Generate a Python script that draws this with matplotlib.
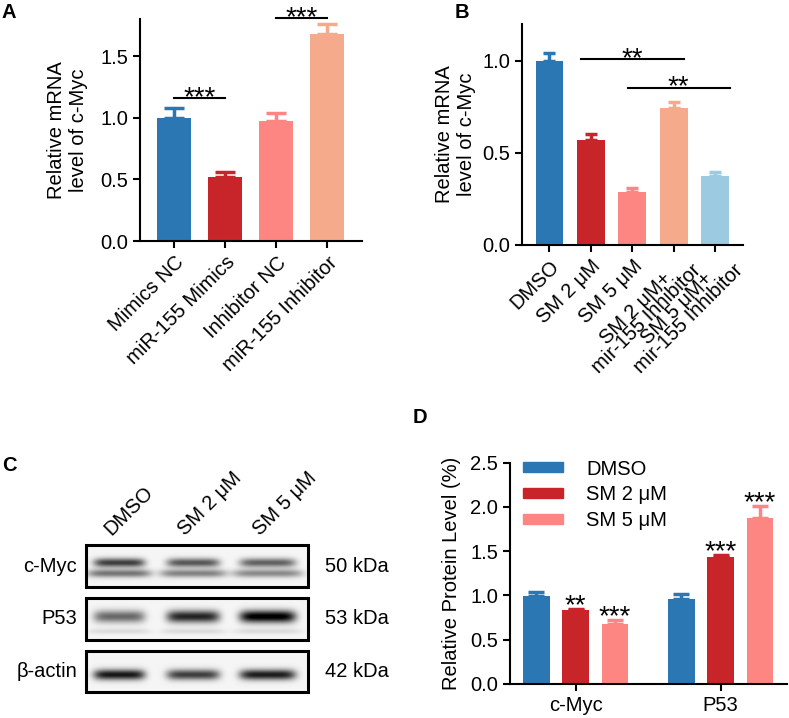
import numpy as np
import matplotlib
matplotlib.use('Agg')
import matplotlib.pyplot as plt
from matplotlib.patches import Rectangle, Patch
from matplotlib.transforms import ScaledTranslation

plt.rcParams['font.family'] = ['Liberation Sans', 'DejaVu Sans']
plt.rcParams['font.size'] = 14.5
FS = 14.5

BLUE = '#2b77b4'
RED = '#c8252a'
PINK = '#fd8682'
PEACH = '#f5aa8b'
LBLUE = '#9ccae0'

# ---- panel A data
a_labels = ['Mimics NC', 'miR-155 Mimics', 'Inhibitor NC', 'miR-155 Inhibitor']
a_means = [1.00, 0.52, 0.975, 1.675]
a_errs = [0.08, 0.04, 0.065, 0.085]
a_colors = [BLUE, RED, PINK, PEACH]
a_sig = [(0, 1, 1.16, '***'), (2, 3, 1.81, '***')]

# ---- panel B data
b_labels = ['DMSO', 'SM 2 μM', 'SM 5 μM', 'SM 2 μM+\nmir-155 Inhibitor',
            'SM 5 μM+\nmir-155 Inhibitor']
b_means = [1.00, 0.57, 0.285, 0.745, 0.375]
b_errs = [0.045, 0.03, 0.022, 0.032, 0.022]
b_colors = [BLUE, RED, PINK, PEACH, LBLUE]
b_sig = [(0.77, 3.25, 1.01, '**'), (1.89, 4.35, 0.855, '**')]

# ---- panel C data (band intensity per lane)
c_lanes = ['DMSO', 'SM 2 μM', 'SM 5 μM']
c_proteins = ['c-Myc', 'P53', 'β-actin']
c_kda = ['50 kDa', '53 kDa', '42 kDa']
c_myc_upper = [0.72, 0.62, 0.58]
c_myc_lower = [0.50, 0.45, 0.42]
c_p53 = [0.55, 0.82, 1.00]
c_p53_faint = [0.10, 0.10, 0.10]
c_actin = [0.88, 0.72, 0.86]

# ---- panel D data
d_groups = ['c-Myc', 'P53']
d_series = ['DMSO', 'SM 2 μM', 'SM 5 μM']
d_dmso = [0.99, 0.96]
d_sm2 = [0.83, 1.43]
d_sm5 = [0.675, 1.88]
d_dmso_err = [0.045, 0.055]
d_sm2_err = [0.022, 0.032]
d_sm5_err = [0.048, 0.13]
d_sm2_stars = ['**', '***']
d_sm5_stars = ['***', '***']


def style_axes(ax):
    for s in ['top', 'right']:
        ax.spines[s].set_visible(False)
    for s in ['left', 'bottom']:
        ax.spines[s].set_linewidth(1.5)
    ax.tick_params(width=1.5, length=5, labelsize=FS)


def bars_with_err(ax, xs, means, errs, colors, width, capsize):
    ax.bar(xs, means, width=width, color=colors, zorder=2)
    for x, m, e, c in zip(xs, means, errs, colors):
        ax.errorbar(x, m, yerr=[[0], [e]], fmt='none', ecolor=c,
                    elinewidth=2.5, capsize=capsize, capthick=2.5, zorder=1)


def stars(ax, x, y, s):
    ax.annotate(s, xy=(x, y), xytext=(0, -5), textcoords='offset points',
                ha='center', va='baseline', fontsize=20, annotation_clip=False)


fig = plt.figure(figsize=(7.89, 7.18), dpi=100)

# ---------------- A
axA = fig.add_axes([0.1774, 0.6643, 0.2814, 0.3092])
xa = np.arange(len(a_means))
bars_with_err(axA, xa, a_means, a_errs, a_colors, 0.67, 7)
for i, j, y, s in a_sig:
    axA.plot([i, j], [y, y], color='black', lw=1.5, clip_on=False)
    stars(axA, (i + j) / 2, y, s)
axA.set_xlim(-0.67, 3.68)
axA.set_ylim(0, 1.8)
axA.set_yticks([0.0, 0.5, 1.0, 1.5])
axA.set_xticks(xa)
axA.set_xticklabels(a_labels, rotation=45, ha='right', rotation_mode='anchor')
axA.set_ylabel('Relative mRNA\nlevel of c-Myc', fontsize=FS, labelpad=9)
style_axes(axA)

# ---------------- B
axB = fig.add_axes([0.6612, 0.6588, 0.2805, 0.3078])
xb = np.arange(len(b_means))
bars_with_err(axB, xb, b_means, b_errs, b_colors, 0.67, 4.5)
for x0, x1, y, s in b_sig:
    axB.plot([x0, x1], [y, y], color='black', lw=1.5)
    stars(axB, (x0 + x1) / 2, y, s)
axB.set_xlim(-0.67, 4.67)
axB.set_ylim(0, 1.2)
axB.set_yticks([0.0, 0.5, 1.0])
axB.set_xticks(xb)
# one-line names as tick labels, two-line names as centred text blocks
axB.set_xticklabels([t if '\n' not in t else '' for t in b_labels],
                    rotation=45, ha='right', rotation_mode='anchor')
shift = axB.get_xaxis_transform() + ScaledTranslation(13.7 / 72, -12.5 / 72,
                                                      fig.dpi_scale_trans)
for x, t in zip(xb, b_labels):
    if '\n' in t:
        axB.text(x, 0, t, transform=shift, rotation=45, rotation_mode='anchor',
                 ha='right', va='center', multialignment='center',
                 linespacing=0.75, fontsize=FS)
axB.set_ylabel('Relative mRNA\nlevel of c-Myc', fontsize=FS)
style_axes(axB)

# ---------------- C (western blot, drawn in pixel-like coords)
axC = fig.add_axes([0, 0, 395 / 789, 318 / 718])
axC.set_xlim(0, 395)
axC.set_ylim(718, 400)
axC.axis('off')

lane_c = np.array([0.149, 0.483, 0.82])
lane_hw = np.array([0.116, 0.12, 0.127])


def strip(band_list, w=222, h=42):
    xx = np.linspace(0, 1, w)[None, :]
    yy = np.linspace(0, 1, h)[:, None]
    img = np.zeros((h, w))
    for yc, sig, vals, hw_scale in band_list:
        for c, hw, v in zip(lane_c, lane_hw, vals):
            px = np.exp(-(np.abs(xx - c) / (hw * hw_scale)) ** 6)
            py = np.exp(-((yy - yc) / sig) ** 2)
            img += v * px * py
    return np.clip(img + 0.04, 0, 1)


strips = [
    strip([(0.42, 0.11, c_myc_upper, 1.0), (0.68, 0.10, c_myc_lower, 1.25)]),
    strip([(0.44, 0.15, c_p53, 1.0), (0.8, 0.07, c_p53_faint, 1.2)]),
    strip([(0.58, 0.13, c_actin, 1.0)]),
]
box_y = [(545, 587), (598, 640), (651, 692)]
x0b, x1b = 86, 308
for img, (ytop, ybot), prot, kda in zip(strips, box_y, c_proteins, c_kda):
    axC.imshow(img, cmap='gray_r', vmin=0, vmax=1, aspect='auto',
               extent=(x0b, x1b, ybot, ytop), interpolation='bilinear')
    axC.add_patch(Rectangle((x0b, ytop), x1b - x0b, ybot - ytop, fill=False,
                            lw=2.2, edgecolor='black'))
    ym = (ytop + ybot) / 2
    axC.text(77, ym, prot, ha='right', va='center', fontsize=FS)
    axC.text(325, ym, kda, ha='left', va='center', fontsize=FS)
for c, lab in zip(lane_c, c_lanes):
    axC.text(x0b + c * (x1b - x0b) - 8, 536, lab, rotation=45,
             ha='left', va='baseline', rotation_mode='anchor', fontsize=FS)

# ---------------- D
axD = fig.add_axes([0.6464, 0.0474, 0.3507, 0.3082])
xd = np.arange(len(d_groups))
bw = 0.184
off = 0.271
series = [(d_dmso, d_dmso_err, BLUE, None), (d_sm2, d_sm2_err, RED, d_sm2_stars),
          (d_sm5, d_sm5_err, PINK, d_sm5_stars)]
for k, (vals, errs, col, st) in enumerate(series):
    xs = xd + (k - 1) * off
    bars_with_err(axD, xs, vals, errs, [col] * len(vals), bw, 5.5)
    if st is not None:
        for x, v, e, s in zip(xs, vals, errs, st):
            stars(axD, x, v + e + 0.03, s)
axD.set_xlim(-0.453, 1.455)
axD.set_ylim(0, 2.5)
axD.set_yticks([0.0, 0.5, 1.0, 1.5, 2.0, 2.5])
axD.set_xticks(xd)
axD.set_xticklabels(d_groups)
axD.set_ylabel('Relative Protein Level (%)', fontsize=FS, labelpad=7)
style_axes(axD)
handles = [Patch(color=c) for c in [BLUE, RED, PINK]]
axD.legend(handles, d_series, loc='upper left', bbox_to_anchor=(0.047, 1.014),
           frameon=False, handlelength=2.0, handleheight=0.4,
           handletextpad=1.15, labelspacing=0.33, borderpad=0,
           borderaxespad=0, fontsize=FS)

# panel letters
for lab, x, y in [('A', 2, 3), ('B', 455, 3), ('C', 2, 456), ('D', 413, 408)]:
    fig.text(x / 789, 1 - y / 718, lab, fontsize=14.5, fontweight='bold',
             ha='left', va='top')

fig.savefig('out.png', dpi=100)
